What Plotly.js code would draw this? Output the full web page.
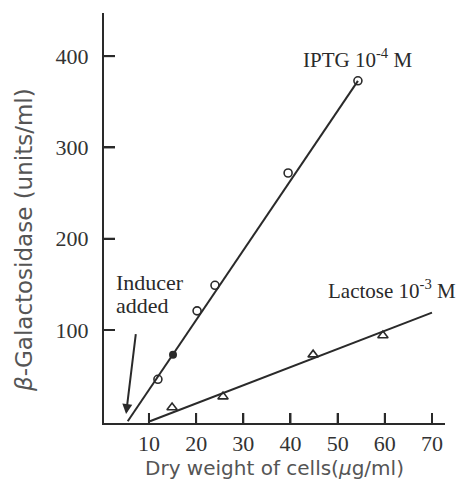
<!DOCTYPE html>
<html>
<head>
<meta charset="utf-8">
<script src="https://cdn.plot.ly/plotly-3.0.1.min.js"></script>
<style>html,body{margin:0;padding:0;background:#fff;}#chart{width:459px;height:491px;}</style>
</head>
<body>
<div id="chart"></div>
<script>
// IPTG 10^-4 M (open circles; one filled)
var iptgX = [11.9, 20.2, 24.0, 39.5, 54.3];
var iptgY = [46, 121, 149, 272, 373];
var iptgFilledX = [15.1];
var iptgFilledY = [73];
var iptgLineX = [5.5, 54.3];
var iptgLineY = [0, 373];

// Lactose 10^-3 M (open triangles)
var lacX = [14.9, 25.7, 44.8, 59.6];
var lacY = [15, 27, 73, 94];
var lacLineX = [10.2, 70];
var lacLineY = [0, 119];

// Inducer arrow (tail -> head)
var arrowTail = [7.25, 97];
var arrowHead = [5.15, 8];

var xTicks = [10, 20, 30, 40, 50, 60, 70];
var yTicks = [100, 200, 300, 400];

var ink = '#2a2a2a';
var serif = 'Liberation Serif, Times New Roman, serif';
var sans = 'DejaVu Sans, Verdana, sans-serif';

var traces = [
  {x: iptgLineX, y: iptgLineY, mode: 'lines', line: {color: ink, width: 2}, hoverinfo: 'skip'},
  {x: lacLineX, y: lacLineY, mode: 'lines', line: {color: ink, width: 2}, hoverinfo: 'skip'},
  {x: iptgX, y: iptgY, mode: 'markers', marker: {symbol: 'circle-open', size: 8, color: ink, line: {width: 1.6, color: ink}}},
  {x: iptgFilledX, y: iptgFilledY, mode: 'markers', marker: {symbol: 'circle', size: 8, color: ink}},
  {x: lacX, y: lacY, mode: 'markers', marker: {symbol: 'triangle-up-open', size: 9, color: ink, line: {width: 1.6, color: ink}}}
];

// inside tick marks, placed on the axes' own scales
var tickShapes = xTicks.map(function (v) {
  return {type: 'line', xref: 'x', yref: 'paper', ysizemode: 'pixel', yanchor: 0,
          x0: v, x1: v, y0: 0, y1: 10, line: {color: ink, width: 2}};
}).concat(yTicks.map(function (v) {
  return {type: 'line', xref: 'paper', yref: 'y', xsizemode: 'pixel', xanchor: 0,
          x0: 0, x1: 11, y0: v, y1: v, line: {color: ink, width: 2}};
}));

var layout = {
  width: 459, height: 491,
  margin: {l: 104, r: 14, t: 13, b: 68},
  showlegend: false,
  xaxis: {
    range: [0.47, 72.76], tickvals: xTicks,
    ticks: 'inside', ticklen: 10, tickwidth: 2, tickcolor: ink,
    showline: true, linewidth: 2, linecolor: ink,
    showgrid: false, zeroline: false,
    tickfont: {family: serif, size: 22, color: '#333'},
    title: {text: 'Dry weight of cells(<i>μ</i>g/ml)', font: {family: sans, size: 20, color: '#555'}, standoff: 2}
  },
  yaxis: {
    range: [-1.9, 447.3], tickvals: yTicks,
    ticks: 'inside', ticklen: 11, tickwidth: 2, tickcolor: ink,
    showline: true, linewidth: 2, linecolor: ink,
    showgrid: false, zeroline: false, ticklabelstandoff: 9,
    tickfont: {family: serif, size: 22, color: '#333'}
  },
  shapes: tickShapes,
  annotations: [
    {x: -0.235, y: 0.446, xref: 'paper', yref: 'paper', text: '<i>β</i>-Galactosidase (units/ml)', textangle: -90,
     showarrow: false, font: {family: sans, size: 23, color: '#555'}, xanchor: 'center', yanchor: 'middle'},
    {x: 54.3, y: 381, xref: 'x', yref: 'y', text: 'IPTG 10<sup>-4</sup> M', showarrow: false,
     font: {family: serif, size: 21, color: ink}, xanchor: 'center', yanchor: 'bottom'},
    {x: 61.5, y: 127, xref: 'x', yref: 'y', text: 'Lactose 10<sup>-3</sup> M', showarrow: false,
     font: {family: serif, size: 21, color: ink}, xanchor: 'center', yanchor: 'bottom'},
    {x: 2.6, y: 151.5, xref: 'x', yref: 'y', text: 'Inducer', showarrow: false,
     font: {family: serif, size: 22, color: ink}, xanchor: 'left', yanchor: 'middle'},
    {x: 2.6, y: 127, xref: 'x', yref: 'y', text: 'added', showarrow: false,
     font: {family: serif, size: 22, color: ink}, xanchor: 'left', yanchor: 'middle'},
    {x: arrowHead[0], y: arrowHead[1], ax: arrowTail[0], ay: arrowTail[1], axref: 'x', ayref: 'y',
     xref: 'x', yref: 'y', text: '', showarrow: true, arrowhead: 2, arrowsize: 1, arrowwidth: 2, arrowcolor: ink}
  ]
};

Plotly.newPlot('chart', traces, layout, {displayModeBar: false, staticPlot: true});
</script>
</body>
</html>
